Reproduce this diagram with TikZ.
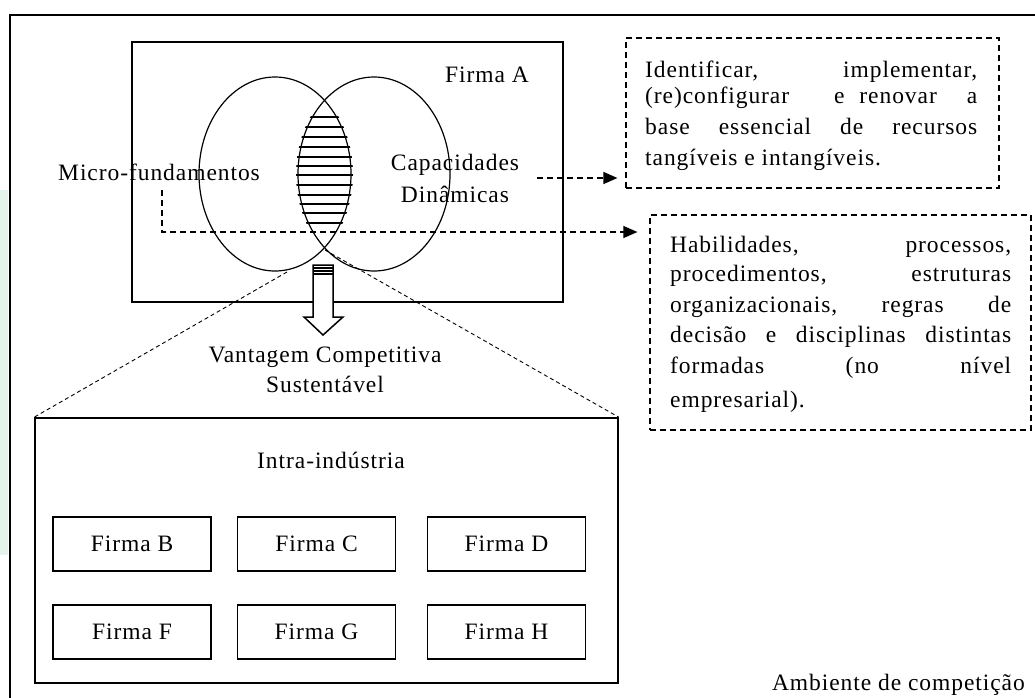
\documentclass[tikz,border=0pt]{standalone}
\usepackage{fontspec}
\setmainfont{Liberation Serif}[LetterSpace=4]
\usetikzlibrary{shapes.geometric,arrows.meta}
\definecolor{greenbg}{HTML}{E4F4EA}
\begin{document}
\begin{tikzpicture}[x=1pt,y=-1pt,
  every node/.style={font=\fontsize{23.5}{28}\selectfont, inner sep=0pt},
  solidbox/.style={draw, line width=1.6pt, rectangle},
  firmbox/.style={draw, line width=1.6pt, rectangle, minimum width=158pt, minimum height=54pt},
  dbox/.style={draw, line width=1.2pt, dash pattern=on 6pt off 4pt, rectangle},
  conn/.style={line width=1.2pt, dash pattern=on 6pt off 4pt, -{Triangle[length=14pt,width=12pt]}},
  zoomline/.style={line width=0.9pt, dash pattern=on 4pt off 3pt},
  circ/.style={ellipse, draw, line width=1.2pt, minimum width=152pt, minimum height=194pt},
  lbl/.style={anchor=base west},
  ctr/.style={anchor=base},
]
\path[use as bounding box] (0,0) rectangle (1035,697);
\clip (0,0) rectangle (1035,697);
\fill[greenbg] (0,190) rectangle (8,555);
% outer frame (ambiente de competicao)
\node[draw, line width=2.2pt, rectangle, minimum width=1040pt, minimum height=700pt, anchor=north west] (frame) at (9,14) {};

% Firma A
\node[solidbox, minimum width=431pt, minimum height=260pt] (firmaA) at (347.5,172) {};
\node[circ] (micro) at (275,174) {};
\node[circ] (capd) at (374,174) {};
\begin{scope}
  \clip (275,174) ellipse (78pt and 99pt);
  \clip (374,174) ellipse (78pt and 99pt);
  \foreach \yy in {117,127,137,147,157,166,175,185,195,204,213,223}
    \draw[line width=1.3pt] (290,\yy) -- (360,\yy);
\end{scope}
\node[lbl] (tfa) at (445,82) {Firma A};
\node[lbl] (tmicro) at (58,180) {Micro-fundamentos};
\node[ctr] (tcap1) at (455,170) {Capacidades};
\node[ctr] (tcap2) at (455,202) {Dinâmicas};

% dashed boxes
\node[dbox, minimum width=373pt, minimum height=150pt] (box1) at (812.5,113) {};
\node[dbox, minimum width=381pt, minimum height=215pt] (box2) at (840.5,322.5) {};

\node[lbl] (b1l1) at (645,77) {\hbox to 332pt{Identificar,\hfill implementar,}};
\node[lbl] (b1l2) at (645,103) {\hbox to 332pt{(re)configurar\hfill\hfill\hfill e\hfill renovar\hfill\hfill a}};
\node[lbl] (b1l3) at (645,134) {\hbox to 332pt{base\hfill essencial\hfill de\hfill recursos}};
\node[lbl] (b1l4) at (645,165) {tangíveis e intangíveis.};

\node[lbl] (b2l1) at (670,252) {\hbox to 341pt{Habilidades,\hfill processos,}};
\node[lbl] (b2l2) at (670,281) {\hbox to 341pt{procedimentos,\hfill estruturas}};
\node[lbl] (b2l3) at (670,312) {\hbox to 341pt{organizacionais,\hfill regras\hfill de}};
\node[lbl] (b2l4) at (670,342) {\hbox to 341pt{decisão\hfill e\hfill disciplinas\hfill distintas}};
\node[lbl] (b2l5) at (670,373) {\hbox to 341pt{formadas\hfill (no\hfill nível}};
\node[lbl] (b2l6) at (670,407) {empresarial).};

% connectors
\coordinate (s1) at (537,178);
\draw[conn, shorten >=8pt] (s1) -- (s1 -| box1.west);
\coordinate (s2) at (162,190);
\coordinate (k2) at (162,232);
\draw[conn, shorten >=12pt] (s2) -- (k2) -- (k2 -| box2.west);

% Intra-industria
\node[solidbox, minimum width=583pt, minimum height=265pt] (intra) at (326.5,550.5) {};
\coordinate (z1) at (287,272);
\coordinate (z2) at (325,250);
\draw[zoomline] (z1) -- (intra.north west);
\draw[zoomline] (z2) -- (intra.north east);

% big arrow
\draw[line width=1.5pt, fill=white] (313,265) -- (333,265) -- (333,317) -- (343,317) -- (323,335) -- (304,317) -- (313,317) -- cycle;
\foreach \yy in {268,271,274}
  \draw[line width=1.3pt] (313,\yy) -- (333,\yy);

\node[ctr] (vant) at (325,362) {Vantagem Competitiva};
\node[ctr] (sust) at (325,392) {Sustentável};
\node[ctr] (tintra) at (331,468) {Intra-indústria};

\node[firmbox] (fB) at (132,544) {Firma B};
\node[firmbox] (fC) at (316.5,544) {Firma C};
\node[firmbox] (fD) at (506.5,544) {Firma D};
\node[firmbox] (fF) at (132,632) {Firma F};
\node[firmbox] (fG) at (316.5,632) {Firma G};
\node[firmbox] (fH) at (506.5,632) {Firma H};

\node[anchor=base east] (amb) at (1025,690) {Ambiente de competição};
\end{tikzpicture}
\end{document}
